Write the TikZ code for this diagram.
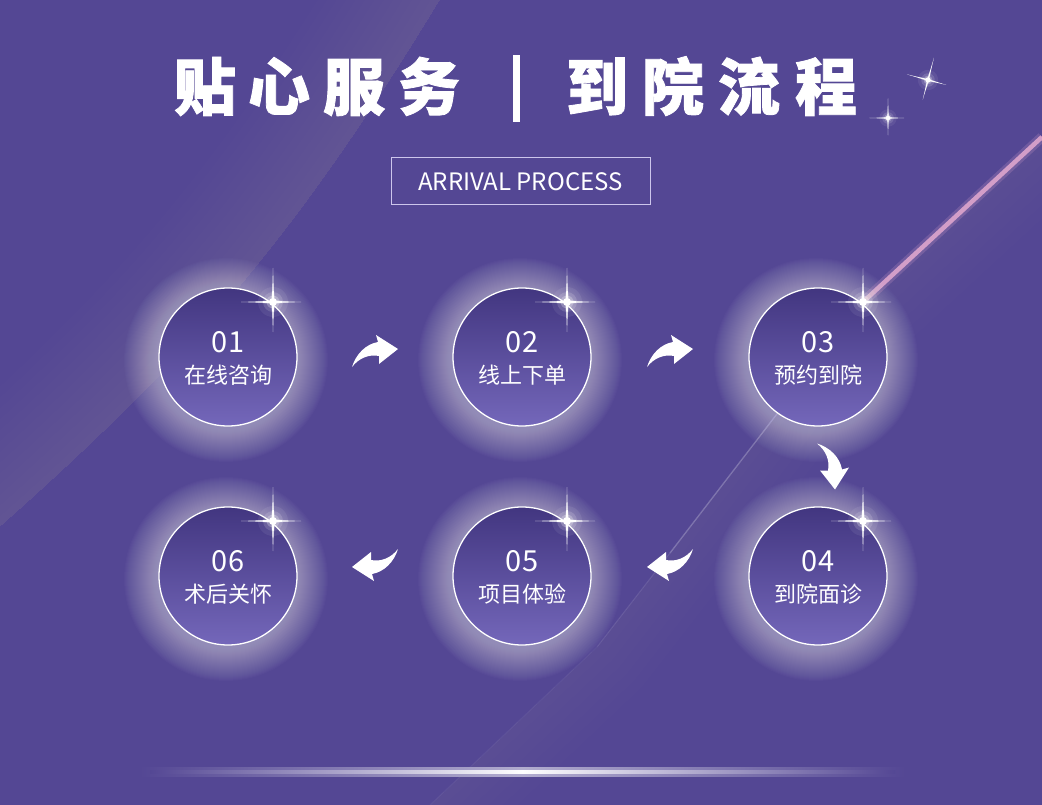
\documentclass[tikz,border=0pt]{standalone}
\usepackage{fontspec}
\setmainfont{Noto Sans CJK SC}
\usetikzlibrary{calc}
\definecolor{bgc}{RGB}{84,71,148}
\definecolor{ctop}{RGB}{66,54,128}
\definecolor{cbot}{RGB}{116,103,186}
\definecolor{pinkline}{RGB}{228,170,208}
\definecolor{boxline}{RGB}{205,198,236}
\definecolor{sheen}{RGB}{235,212,245}
\definecolor{glowc}{RGB}{240,236,252}
\tikzset{
  stepcircle/.style={circle, minimum size=138pt, inner sep=0pt, top color=ctop, bottom color=cbot, draw=white, line width=1.3pt},
  numtext/.style={text=white, font=\fontsize{29}{29}\selectfont, inner sep=0pt},
  labtext/.style={text=white, font=\fontsize{22}{22}\selectfont, inner sep=0pt},
  titlechar/.style={text=white, font=\fontsize{62}{62}\selectfont\bfseries\addfontfeature{FakeBold=1.3}, inner sep=0pt},
  subtext/.style={text=white, font=\fontsize{24}{24}\selectfont, inner sep=0pt},
  subbox/.style={draw=boxline, line width=1pt, minimum width=259pt, minimum height=47pt, inner sep=0pt},
  swoosh/.pic={\fill[white] (-23,16) .. controls (-19,3) and (-9,-7) .. (3,-9) -- (1,-16) -- (23,-2) -- (4,13) -- (4,5) .. controls (-6,3) and (-16,7) .. cycle;},
  sparkle/.pic={
    \fill[white,opacity=.07] (0,0) circle (15);
    \fill[white,opacity=.14] (0,0) circle (10);
    \fill[white,opacity=.25] (0,0) circle (6.5);
    \fill[white,opacity=.30] (-18,0) -- (0,-2.6) -- (16,0) -- (0,2.6) -- cycle;
    \fill[white,opacity=.30] (0,-18) -- (2.6,0) -- (0,18) -- (-2.6,0) -- cycle;
    \fill[white] (-32,0) -- (0,-1.1) -- (28,0) -- (0,1.1) -- cycle;
    \fill[white] (0,-34) -- (1.1,0) -- (0,30) -- (-1.1,0) -- cycle;
    \fill[white] (0,0) circle (4);
  }
}
\begin{document}
\begin{tikzpicture}[x=1pt,y=-1pt]
\useasboundingbox (0,0) rectangle (1042,805);
\clip (0,0) rectangle (1042,805);
% background
\fill[bgc] (0,0) rectangle (1042,805);
% top-left sheen
\begin{scope}
  \clip (0,0) -- (440,0) .. controls (300,230) and (200,350) .. (0,527) -- cycle;
  \foreach \w in {16,32,...,208} {
    \draw[white,opacity=0.0075,line width=\w] (440,0) .. controls (300,230) and (200,350) .. (0,527);
  }
\end{scope}
% right sheen
\begin{scope}
  \clip (1042,137) -- (863,302) -- (670,553) -- (597,647) -- (430,805) -- (1042,805) -- cycle;
  \foreach \yy in {180,205,...,730} {
    \fill[sheen,opacity=0.0058] (400,100) rectangle (1042,\yy);
  }
  \foreach \w in {20,40,...,120} {
    \draw[sheen,opacity=0.008,line width=\w] (1042,137) -- (863,302) -- (670,553) -- (597,647) -- (430,805);
  }
\end{scope}
% pink light line
\draw[pinkline,line width=10,opacity=.20] (1042,137) -- (863,302);
\draw[pinkline,line width=4.5,opacity=.85] (1042,137) -- (863,302);
\draw[white,line width=1.3,opacity=.24] (863,302) -- (670,553);
\draw[white,line width=1,opacity=.10] (670,553) -- (597,647);
\draw[white,line width=1,opacity=.05] (597,647) -- (430,805);
% circle positions
\coordinate (p1) at (228,357);
\coordinate (p2) at (522,357);
\coordinate (p3) at (818,357);
\coordinate (p4) at (818,576);
\coordinate (p5) at (522,576);
\coordinate (p6) at (228,576);
% glows
\foreach \i in {1,...,6} {
  \foreach \r in {102,101,...,70} {
    \fill[glowc,opacity=0.021] ($(p\i)+(-2,3)$) circle (\r);
  }
}
% circles
\foreach \i in {1,...,6} {
  \node[stepcircle] (c\i) at (p\i) {};
}
% circle texts
\foreach \n/\lab [count=\i] in {01/在线咨询,02/线上下单,03/预约到院,04/到院面诊,05/项目体验,06/术后关怀} {
  \node[numtext,anchor=base] (n\i) at ($(c\i)+(0,-5)$) {\n};
  \node[labtext,anchor=base] (l\i) at ($(c\i)+(0,26.5)$) {\lab};
}
% sparkles on circles
\foreach \i in {1,...,6} {
  \pic at ($(c\i)+(45,-55)$) {sparkle};
}
% title sparkles
\pic[rotate=-15,scale=.68] at (928,80) {sparkle};
\pic[scale=.58] at (888,118) {sparkle};
% arrows
\pic at ($(c1)!.5!(c2)+(0,-6)$) {swoosh};
\pic at ($(c2)!.5!(c3)+(0,-6)$) {swoosh};
\pic[rotate=-90] at ($(c3)!.5!(c4)+(15,0)$) {swoosh};
\pic[rotate=180] at ($(c4)!.5!(c5)+(0,-11)$) {swoosh};
\pic[rotate=180] at ($(c5)!.5!(c6)+(0,-11)$) {swoosh};
% title
\foreach \ch/\xx [count=\i] in {贴/205,心/279,服/354,务/429,到/597,院/673,流/749,程/826} {
  \node[titlechar,anchor=base] (t\i) at (\xx,110) {\ch};
}
\fill[white] (512.5,55) rectangle (519.5,122);
% subtitle
\node[subbox] (sub) at (520.5,181.5) {};
\node[subtext,anchor=base] (subt) at (sub.center |- 0,191) {ARRIVAL PROCESS};
% bottom glowing line
\shade[left color=bgc,right color=bgc,middle color=white!55!bgc] (140,767) rectangle (905,776);
\shade[left color=bgc,right color=bgc,middle color=white] (150,770) rectangle (895,773);
\end{tikzpicture}
\end{document}
